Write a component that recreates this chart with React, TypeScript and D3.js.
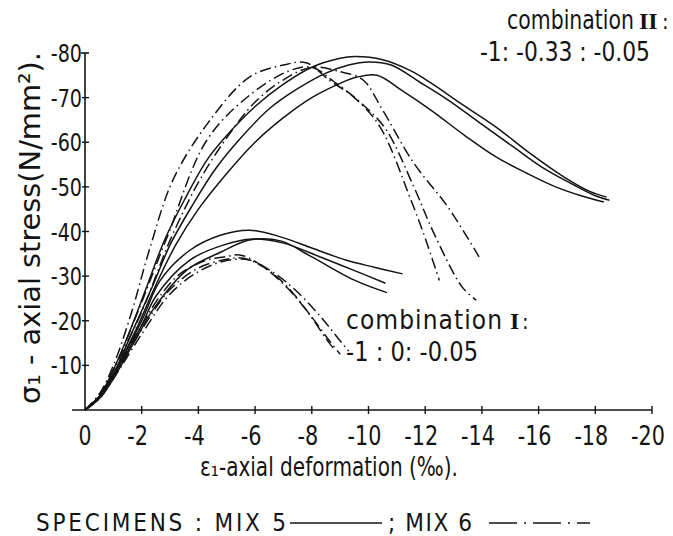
import React from 'react';
import * as d3 from 'd3';

// strain magnitude (‰), stress magnitude (N/mm²) — both plotted as compression (negative labels)
const strainTicks = [0, 2, 4, 6, 8, 10, 12, 14, 16, 18, 20];
const stressTicks = [10, 20, 30, 40, 50, 60, 70, 80];

// combination II : -1 : -0.33 : -0.05
const mix5CombIIa = [[0, 0], [0.5, 3], [1, 9], [1.6, 18], [2.2, 28], [2.8, 38], [3.5, 47], [4.3, 56], [5, 61.5], [6, 68], [7, 73], [8, 76.8], [9, 78.8], [9.5, 79.2], [10.5, 78.5], [11.5, 76], [12.2, 73.3], [13.3, 68.5], [14.5, 63.4], [15.7, 57.5], [16.9, 52.2], [17.8, 49], [18.4, 47.7]];
const mix5CombIIb = [[0, 0], [0.5, 3], [1, 8], [1.7, 18], [2.4, 28], [3, 37], [3.8, 46], [4.6, 54], [5.5, 61], [6.5, 67.5], [7.5, 72], [8.5, 75.5], [9.3, 77.3], [10, 78], [10.8, 77.3], [11.8, 73.5], [12.8, 69.5], [14, 64], [15.1, 59], [16.1, 54.5], [17.1, 50.9], [18, 48], [18.5, 47]];
const mix5CombIIc = [[0, 0], [0.5, 3], [1, 8], [1.8, 18], [2.5, 28], [3.2, 37], [4, 45], [5, 53], [6, 60], [7, 65.5], [8, 70], [9, 73.2], [9.6, 74.6], [10.3, 75], [11.2, 71.5], [12.2, 67.2], [13.4, 61.5], [14.5, 56.7], [15.6, 53], [16.6, 50], [17.5, 48], [18.3, 46.6]];
const mix6CombIIa = [[0, 0], [0.5, 3.5], [1, 10], [1.6, 21], [2.3, 36.5], [3.1, 51.5], [4.3, 64], [5.8, 74.6], [7, 77.3], [7.8, 77.8], [8.6, 74], [9.5, 70], [10.4, 63.5], [11.5, 47], [12, 38.5], [12.5, 29]];
const mix6CombIIb = [[0, 0], [0.5, 3.5], [1, 9], [1.8, 21], [2.9, 38.8], [4.3, 60.5], [5.8, 70.5], [7.2, 76], [8, 76.8], [8.8, 73.5], [9.7, 69], [10.6, 63], [11.6, 50], [12.3, 39.7], [13.3, 27.6], [13.8, 24.6]];
const mix6CombIIc = [[0, 0], [0.5, 3], [1, 9], [2, 22], [3, 38], [4, 51], [5, 61], [6, 69], [7, 74], [8, 76.8], [9, 75.8], [9.8, 74], [10.5, 67.2], [11.6, 55.3], [12.8, 45.5], [13.9, 34.3]];

// combination I : -1 : 0 : -0.05
const mix5CombIa = [[0, 0], [0.5, 3], [1, 8], [2, 20], [2.65, 29], [3.7, 35.8], [4.8, 39.2], [5.8, 40.3], [6.9, 38.8], [8, 36.3], [9.2, 33.6], [10.2, 32], [11.2, 30.5]];
const mix5CombIb = [[0, 0], [0.5, 3], [1, 7.5], [2, 19], [2.5, 25.5], [3.7, 33.6], [4.9, 37], [5.9, 38.3], [7, 37.4], [8.3, 34.3], [9.6, 31], [10.6, 28.4]];
const mix5CombIc = [[0, 0], [0.5, 2.5], [1, 7], [1.8, 16], [2.4, 22.5], [3.6, 31.4], [4.8, 35.4], [5.8, 38.1], [6.9, 37.9], [8, 34.3], [9.5, 29.1], [10.65, 26.3]];
const mix6CombIa = [[0, 0], [0.5, 3], [1, 8], [2, 19], [2.7, 26], [3.35, 30.5], [4.3, 33.6], [4.9, 34.3], [5.5, 34.7], [6.2, 32.5], [7.1, 27.6], [8, 20.8], [8.6, 15.7], [9, 12.5]];
const mix6CombIb = [[0, 0], [0.5, 3], [1, 7.5], [2, 18], [3, 27], [4, 31.8], [5, 33.8], [5.6, 34], [6.3, 32], [7, 28.5], [7.8, 22.5], [8.5, 16], [8.8, 13.5]];
const mix6CombIc = [[0, 0], [0.5, 2.5], [1, 7], [2, 17], [3, 26], [4, 31], [5, 33.5], [5.8, 33.6], [6.6, 31], [7.4, 27], [8.3, 21], [9, 15.5], [9.3, 13.2]];

const mix5Curves = [mix5CombIIa, mix5CombIIb, mix5CombIIc, mix5CombIa, mix5CombIb, mix5CombIc];
const mix6Curves = [mix6CombIIa, mix6CombIIb, mix6CombIIc, mix6CombIa, mix6CombIb, mix6CombIc];

const W = 673;
const H = 536;
const ink = '#141414';
const font = "'DejaVu Sans Condensed', 'DejaVu Sans', sans-serif";
const serif = "'Liberation Serif', serif";
const dashDot = '11 4 1.5 4';

// width of a hand-lettered number label: narrow digits, short minus
const labelWidth = (s: string, digit: number) =>
  s.split('').reduce((w, ch) => w + (ch === '-' ? digit * 0.6 : digit), 0);

export default function App() {
  const x = d3.scaleLinear().domain([0, 20]).range([85, 652]);
  const y = d3.scaleLinear().domain([0, 80]).range([410, 53]);

  const line = d3.line<number[]>()
    .x((d) => x(d[0]))
    .y((d) => y(d[1]))
    .curve(d3.curveCatmullRom.alpha(0.5));

  const fmt = (v: number) => (v === 0 ? '0' : `-${v}`);

  return (
    <svg width={W} height={H} style={{ position: 'absolute', left: 0, top: 0, background: '#fff' }}
      fontFamily={font} fill={ink}>
      {/* axes */}
      <line x1={72} x2={x(20)} y1={y(0)} y2={y(0)} stroke={ink} strokeWidth={1.6} />
      <line x1={x(0)} x2={x(0)} y1={y(0)} y2={y(80)} stroke={ink} strokeWidth={1.6} />
      <line x1={x(0) - 4} x2={x(0) + 4} y1={y(80)} y2={y(80)} stroke={ink} strokeWidth={1.6} />

      {strainTicks.map((t) => {
        const s = fmt(t);
        const w = labelWidth(s, 13);
        return (
          <g key={'xt' + t}>
            {t > 0 && <line x1={x(t)} x2={x(t)} y1={y(0) - 4} y2={y(0) + 4} stroke={ink} strokeWidth={1.4} />}
            <text x={x(t) - (t === 0 ? w / 2 : w / 2 + 4)} y={445} fontSize={26}
              textLength={w} lengthAdjust="spacingAndGlyphs">{s}</text>
          </g>
        );
      })}

      {stressTicks.map((t) => {
        const s = fmt(t);
        const w = labelWidth(s, 12);
        return (
          <g key={'yt' + t}>
            {t < 80 && <line x1={x(0) - 3} x2={x(0) + 4} y1={y(t)} y2={y(t)} stroke={ink} strokeWidth={1.4} />}
            <text x={x(0) - 3 - w} y={y(t) + 9} fontSize={25}
              textLength={w} lengthAdjust="spacingAndGlyphs">{s}</text>
          </g>
        );
      })}

      {/* axis titles */}
      <text transform="translate(40,404) rotate(-90)" fontSize={29} textLength={352} lengthAdjust="spacingAndGlyphs">
        σ₁ - axial  stress(N/mm²).
      </text>
      <text x={200} y={476} fontSize={26} textLength={258} lengthAdjust="spacingAndGlyphs">
        ε₁-axial deformation (‰).
      </text>

      {/* curves */}
      {mix5Curves.map((c, i) => (
        <path key={'m5' + i} d={line(c) || ''} fill="none" stroke={ink} strokeWidth={1.5} />
      ))}
      {mix6Curves.map((c, i) => (
        <path key={'m6' + i} d={line(c) || ''} fill="none" stroke={ink} strokeWidth={1.5} strokeDasharray={dashDot} />
      ))}

      {/* annotations */}
      <text x={507} y={29} fontSize={26} textLength={127} lengthAdjust="spacingAndGlyphs">combination</text>
      <text x={639} y={29} fontSize={24} fontFamily={serif} fontWeight="bold">II</text>
      <text x={662} y={29} fontSize={22}>:</text>
      <text x={480} y={61} fontSize={26} textLength={170} lengthAdjust="spacingAndGlyphs">-1: -0.33 : -0.05</text>

      <text x={346} y={329} fontSize={26} textLength={156} lengthAdjust="spacing">combination</text>
      <text x={510} y={329} fontSize={24} fontFamily={serif} fontWeight="bold">I</text>
      <text x={522} y={329} fontSize={22}>:</text>
      <text x={346} y={361} fontSize={26} textLength={132} lengthAdjust="spacingAndGlyphs">-1 : 0: -0.05</text>

      {/* legend */}
      <text x={36} y={531} fontSize={24} textLength={250} lengthAdjust="spacing">SPECIMENS :  MIX 5</text>
      <line x1={290} x2={382} y1={523} y2={523} stroke={ink} strokeWidth={1.5} />
      <text x={388} y={531} fontSize={24} textLength={84} lengthAdjust="spacing">; MIX 6</text>
      <line x1={489} x2={590} y1={523} y2={523} stroke={ink} strokeWidth={1.5} strokeDasharray="28 7 2 7" />
    </svg>
  );
}
